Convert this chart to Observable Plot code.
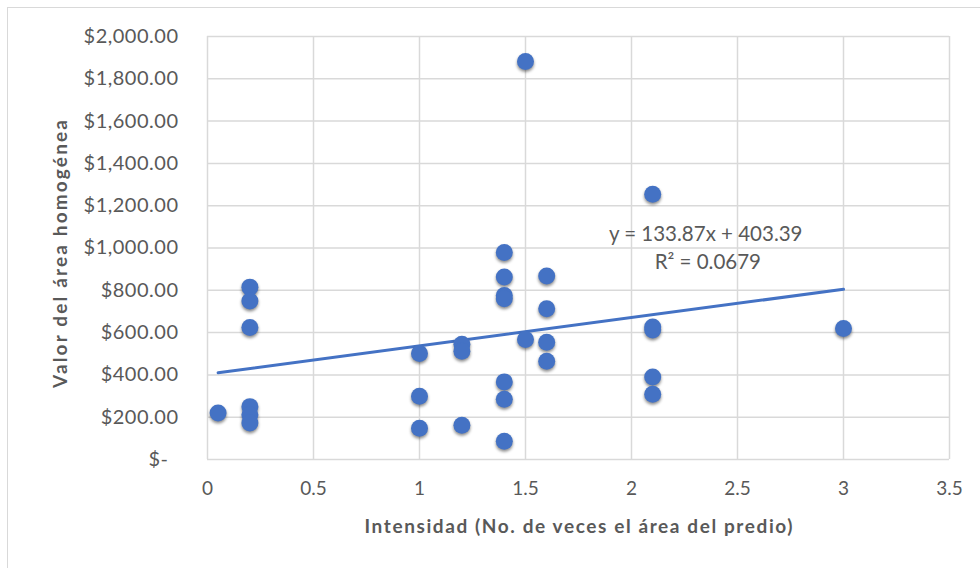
<!DOCTYPE html>
<html>
<head>
<meta charset="utf-8">
<script src="https://cdn.jsdelivr.net/npm/d3@7"></script>
<script src="https://cdn.jsdelivr.net/npm/@observablehq/plot@0.6"></script>
<style>
  html, body { margin: 0; padding: 0; background: #fff; }
  #wrap { position: relative; width: 980px; height: 568px; overflow: hidden; }
  #border { position: absolute; left: 7px; top: 7px; width: 1000px; height: 600px;
            border-top: 1.5px solid #d9d9d9; border-left: 1.5px solid #d9d9d9; }
  #chart { position: absolute; left: 0; top: 0; }
  g[aria-label="dot"] { filter: drop-shadow(0px 2.5px 1.5px rgba(0,0,0,0.45)); }
</style>
</head>
<body>
<div id="wrap"><div id="border"></div><div id="chart"></div></div>
<script>
// Intensidad (x) and Valor del área homogénea (y)
const intensidad = [0.05, 0.2, 0.2, 0.2, 0.2, 0.2, 0.2,
  1, 1, 1, 1.2, 1.2, 1.2,
  1.4, 1.4, 1.4, 1.4, 1.4, 1.4, 1.4,
  1.5, 1.5,
  1.6, 1.6, 1.6, 1.6,
  2.1, 2.1, 2.1, 2.1, 2.1,
  3];
const valor = [220, 815, 749, 624, 250, 212, 173,
  501, 299, 148, 545, 512, 162,
  979, 863, 775, 760, 367, 285, 86,
  1882, 567,
  868, 713, 554, 464,
  1254, 627, 612, 390, 308,
  619];
const slope = 133.87, intercept = 403.39;
const eqLines = ["y = 133.87x + 403.39", "R² = 0.0679"];
const eqAnchorX = [2.35, 2.36];
const eqAnchorY = [1064, 932];
const xTicks = [0, 0.5, 1, 1.5, 2, 2.5, 3, 3.5];
const yTicks = [200, 400, 600, 800, 1000, 1200, 1400, 1600, 1800, 2000];
const xTitle = "Intensidad (No. de veces el área del predio)";
const yTitle = "Valor del área homogénea";

const pts = intensidad.map((x, i) => ({x, y: valor[i]}));
const xMin = d3.min(intensidad), xMax = d3.max(intensidad);
const trend = [xMin, xMax].map(x => ({x, y: slope * x + intercept}));
const eq = eqLines.map((t, i) => ({t, x: eqAnchorX[i], y: eqAnchorY[i]}));

const font = "Lato, 'Open Sans', sans-serif";
const grey = "#595959";
const fmt = d3.format("$,.2f");

const chart = Plot.plot({
  width: 980, height: 568,
  marginLeft: 207, marginRight: 31, marginTop: 36, marginBottom: 109,
  style: {fontFamily: font, fontSize: "20px", color: grey, background: "transparent"},
  x: {domain: [0, 3.5]},
  y: {domain: [0, 2000]},
  marks: [
    Plot.ruleX(xTicks, {stroke: "#d9d9d9", strokeWidth: 1.5}),
    Plot.ruleY([0, ...yTicks], {stroke: "#d9d9d9", strokeWidth: 1.5}),
    Plot.axisX({ticks: xTicks, tickSize: 0, tickPadding: 22, tickFormat: d => String(d), label: null, fontSize: 19}),
    Plot.axisY({ticks: yTicks, tickSize: 0, tickPadding: 29, tickFormat: fmt, label: null}),
    Plot.axisY({ticks: [0], tickSize: 0, tickPadding: 39, tickFormat: () => "$-", label: null}),
    Plot.line(trend, {x: "x", y: "y", stroke: "#4472C4", strokeWidth: 3}),
    Plot.dot(pts, {x: "x", y: "y", r: 8.5, fill: "#4472C4", stroke: "none"}),
    Plot.text(eq, {x: "x", y: "y", text: "t", fontSize: 20.5, fill: grey}),
    Plot.text([xTitle], {frameAnchor: "bottom", dy: 67, textAnchor: "middle", lineAnchor: "middle", fontWeight: "bold", fontSize: 19, fill: grey}),
    Plot.text([yTitle], {frameAnchor: "left", dx: -147, dy: 6, rotate: -90, textAnchor: "middle", lineAnchor: "middle", fontWeight: "bold", fontSize: 19, fill: grey})
  ]
});
document.getElementById("chart").appendChild(chart);
// Stretch the axis titles a little, as in the reference
d3.select(chart).selectAll("text").each(function () {
  const t = this.textContent;
  if (t === xTitle) d3.select(this).attr("textLength", 428).attr("lengthAdjust", "spacing");
  else if (t === yTitle) d3.select(this).attr("textLength", 268).attr("lengthAdjust", "spacing");
});
d3.select(chart).selectAll('g[aria-label="y-axis tick label"] text').attr("letter-spacing", "0.5px");
</script>
</body>
</html>
